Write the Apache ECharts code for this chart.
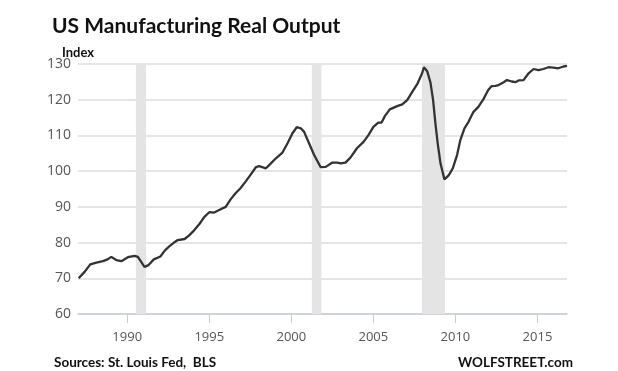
<!DOCTYPE html>
<html>
<head>
<meta charset="utf-8">
<script src="https://cdn.jsdelivr.net/npm/echarts@6/dist/echarts.min.js"></script>
<style>
html,body{margin:0;padding:0;background:#fff;}
#c{width:618px;height:371px;}
</style>
</head>
<body>
<div id="c"></div>
<script>
// Data (year, index value)
const years = [1987.04,1987.40,1987.75,1988.12,1988.52,1988.8,1989.03,1989.33,1989.64,1990.04,1990.45,1990.65,1991.05,1991.3,1991.62,1992.02,1992.3,1992.6,1992.85,1993.08,1993.5,1993.79,1994.09,1994.4,1994.7,1995.0,1995.3,1995.6,1996.0,1996.3,1996.6,1996.9,1997.2,1997.5,1997.84,1998.04,1998.45,1998.65,1999.06,1999.46,1999.77,2000.07,2000.33,2000.58,2000.78,2001.08,2001.39,2001.79,2002.1,2002.5,2002.8,2003.0,2003.3,2003.6,2004.0,2004.4,2004.7,2005.0,2005.3,2005.5,2005.7,2006.0,2006.45,2006.76,2007.06,2007.37,2007.7,2007.97,2008.08,2008.28,2008.48,2008.64,2008.78,2008.92,2009.09,2009.33,2009.6,2009.84,2010.1,2010.3,2010.55,2010.8,2011.1,2011.4,2011.7,2012.0,2012.2,2012.43,2012.63,2012.94,2013.14,2013.44,2013.65,2013.85,2014.15,2014.46,2014.76,2015.06,2015.36,2015.67,2015.97,2016.27,2016.58,2016.8];
const values = [70.0,71.8,73.9,74.4,74.8,75.3,76.0,75.1,74.8,75.9,76.3,76.0,73.2,73.7,75.3,76.1,77.8,79.1,80.0,80.7,81.0,82.1,83.5,85.2,87.2,88.5,88.4,89.1,90.0,92.1,93.8,95.2,97.0,98.9,101.1,101.4,100.8,101.7,103.6,105.2,107.8,110.6,112.3,112.0,111.0,107.8,104.5,101.1,101.2,102.4,102.4,102.2,102.4,103.8,106.4,108.2,110.1,112.4,113.6,113.6,115.4,117.3,118.2,118.7,119.9,122.2,124.6,127.4,129.1,128.0,124.8,119.9,113.4,107.8,102.2,97.7,98.9,100.8,104.5,108.7,112.0,113.8,116.6,118.0,120.1,122.7,123.8,123.9,124.1,124.9,125.5,125.1,124.9,125.4,125.5,127.4,128.6,128.3,128.6,129.1,129.0,128.8,129.3,129.5];
// Recession bands
const recessionStart = [1990.53, 2001.25, 2007.96];
const recessionEnd = [1991.14, 2001.83, 2009.36];
// Tick labels
const xTicks = [1990, 1995, 2000, 2005, 2010, 2015];
const yMin = 60, yMax = 130, yStep = 10;

const titleText = 'US Manufacturing Real Output';
const unitText = 'Index';
const sourceText = 'Sources: St. Louis Fed,  BLS';
const brandText = 'WOLFSTREET.com';

const chart = echarts.init(document.getElementById('c'), null, {renderer: 'canvas'});
const seriesData = years.map((y, i) => [y, values[i]]);
const bands = recessionStart.map((s, i) => [{xAxis: s}, {xAxis: recessionEnd[i]}]);

chart.setOption({
  animation: false,
  backgroundColor: '#ffffff',
  title: [
    {text: titleText, left: 47, top: 11,
     textStyle: {fontFamily: 'Lato', fontWeight: 'bold', fontSize: 21, color: '#111'}},
    {text: unitText, left: 57, top: 41,
     textStyle: {fontFamily: 'Lato', fontWeight: 'bold', fontSize: 13, color: '#111'}},
    {text: sourceText, left: 49, top: 351,
     textStyle: {fontFamily: 'Lato', fontWeight: 'bold', fontSize: 13.5, color: '#111'}},
    {text: brandText, right: 40, top: 351,
     textStyle: {fontFamily: 'Lato', fontWeight: 'bold', fontSize: 13.5, color: '#111'}}
  ],
  grid: {left: 78, right: 51, top: 64, bottom: 57, containLabel: false},
  xAxis: {
    type: 'value', min: 1987, max: 2016.8,
    splitLine: {show: false},
    axisLine: {show: true, lineStyle: {color: '#c9ccd6', width: 1.5}},
    axisTick: {show: true, customValues: xTicks, length: 9, lineStyle: {color: '#c9ccd6', width: 1}},
    axisLabel: {customValues: xTicks, formatter: v => String(v), margin: 17,
      fontFamily: 'Open Sans', fontSize: 13, color: '#555'}
  },
  yAxis: {
    type: 'value', min: yMin, max: yMax, interval: yStep,
    axisLine: {show: false}, axisTick: {show: false},
    splitLine: {lineStyle: {color: '#dddddd', width: 1.5}},
    axisLabel: {margin: 7, fontFamily: 'Open Sans', fontSize: 14, color: '#555'}
  },
  series: [{
    type: 'line',
    data: seriesData,
    showSymbol: false,
    smooth: false,
    lineStyle: {color: '#333333', width: 2.3},
    markArea: {silent: true, itemStyle: {color: '#e4e4e4'}, data: bands},
    z: 3
  }]
});
</script>
</body>
</html>
